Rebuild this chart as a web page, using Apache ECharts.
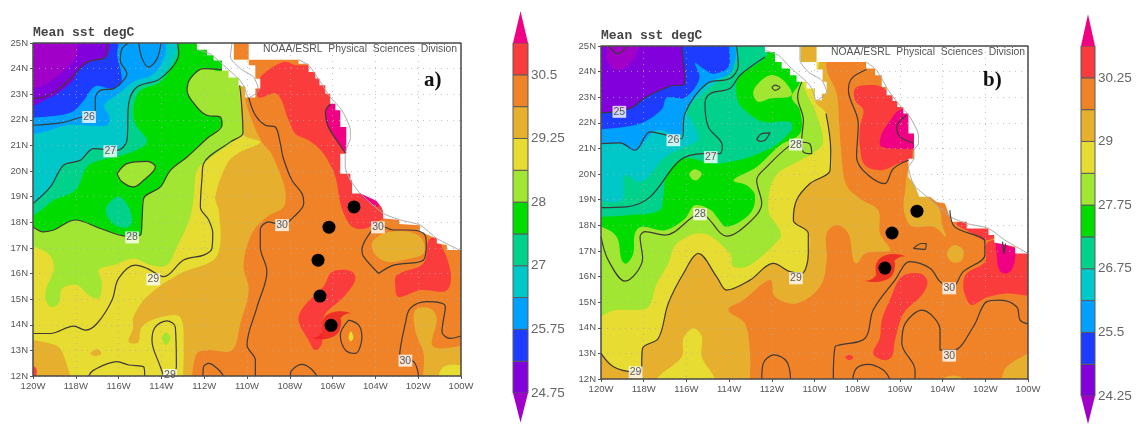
<!DOCTYPE html>
<html><head><meta charset="utf-8">
<style>html,body{margin:0;padding:0;background:#fff}#c{width:1136px;height:424px;filter:blur(0.45px)}</style>
<script src="https://cdn.jsdelivr.net/npm/echarts@6/dist/echarts.min.js"></script>
</head><body><div id="c"></div>
<script>
const xTickLabels=['120W','118W','116W','114W','112W','110W','108W','106W','104W','102W','100W'];
const yTickLabels=['12N','13N','14N','15N','16N','17N','18N','19N','20N','21N','22N','23N','24N','25N'];
const barLabelsA=['24.75','','25.75','','27','','28','','29.25','','30.5',''];
const barLabelsB=['24.25','','25.5','','26.75','','27.75','','29','','30.25',''];
const ORANGE='#f08228',GOLD='#e6af2d',YELLOW='#e6dc32',LGREEN='#a0e632',GREEN='#00dc00',SEA='#00d28c',CYAN='#00c8c8',SKY='#00a0ff',BLUE='#1e3cff',PURPLE='#8200dc',VIOLET='#a000c8',RED='#fa3c3c',MAGENTA='#f00082';
const barColors=[PURPLE,BLUE,SKY,CYAN,SEA,GREEN,LGREEN,YELLOW,GOLD,ORANGE,RED];

/* ===== panel a: band edges, [lon,lat] ===== */
const aGold=[[-109.95,24],[-110.08,22.87],[-109.77,21.98],[-109.3,21.13],[-108.91,20.75],[-108.52,20.03],[-108.21,19.25],[-108.29,18.6],[-109.07,18.21],[-109.77,17.57],[-110.16,16.33],[-109.92,15.35],[-110.31,14.05],[-110.7,13.01],[-111.87,13.01],[-112.34,12.88],[-112.57,12],[-112.6,11.5],[-121,11.5],[-121,26],[-110,26]];
const aYellow=[[-110.2,24],[-110.28,23.35],[-110.19,21.46],[-109.38,21.13],[-110.31,20.75],[-110.93,20.29],[-111.48,18.99],[-111.32,18.47],[-111.25,17.18],[-111.56,16.53],[-113.12,16],[-114.67,15.1],[-115.3,14.31],[-115.33,13.86],[-115.53,13.34],[-115.09,13.31],[-114.91,13.92],[-114.05,14.29],[-113.12,14.29],[-112.96,13.01],[-112.99,12],[-113,11.5],[-121,11.5],[-121,26],[-110.2,26]];
const aLGreen=[[-110.4,24],[-110.39,23.35],[-110.23,21.85],[-110.19,21.49],[-111.87,20.42],[-112.34,20.03],[-112.49,18.99],[-112.68,18.15],[-113.27,17.05],[-113.74,16.33],[-114.52,16.33],[-115.3,16.59],[-116.23,16.33],[-116.93,16.14],[-116.78,15.62],[-116.93,15.03],[-117.4,15.16],[-117.94,15.55],[-118.64,15.42],[-118.8,14.83],[-119.19,14.7],[-119.42,15.09],[-119.35,15.48],[-119.03,16.14],[-119.11,16.59],[-119.42,16.85],[-120,17.05],[-121,17.1],[-121,26],[-110.4,26]];
const aContour28=[[-111.17,23.96],[-112.03,24],[-112.65,23.61],[-112.8,23.15],[-112.34,22.5],[-111.87,22.18],[-111.25,22.11],[-111.17,21.79],[-111.87,21.27],[-112.8,20.55],[-113.58,20.03],[-114.05,19.38],[-114.83,18.93],[-114.9,18.15],[-114.98,17.5],[-115.61,17.46],[-116.85,17.76],[-118.02,18.09],[-119.03,17.7],[-119.5,17.63],[-120,17.83]];
const aGreen=aContour28.concat([[-121,17.9],[-121,26],[-111.17,26]]);
const aSea=[[-113.3,26],[-113.27,25],[-113.19,24.58],[-114.05,23.48],[-114.98,23.15],[-115.3,22.5],[-115.22,21.85],[-114.67,21.14],[-115.61,20.68],[-116.85,20.42],[-117.48,20.16],[-118.02,19.25],[-119.03,18.86],[-119.97,18.28],[-121,18.1],[-121,26]];
const aCyan=[[-113.35,26],[-113.35,24.58],[-114.2,23.54],[-115.22,23.26],[-115.53,22.63],[-115.61,21.2],[-116.07,20.81],[-117.17,20.88],[-117.79,20.42],[-118.57,20.23],[-119.19,19.38],[-120,18.73],[-121,18.4],[-121,26]];
const aSky=[[-113.77,26],[-113.77,25],[-113.85,24.45],[-114.36,23.8],[-115.3,23.48],[-116,23.02],[-116.67,22.57],[-116.42,22.11],[-116.54,21.79],[-117.63,21.79],[-118.41,21.79],[-119.5,21.53],[-120,21.44],[-121,21.3],[-121,26]];
const aBlue=[[-116,26],[-116,25],[-116.07,24.52],[-115.89,23.87],[-115.89,23.41],[-116.31,23.22],[-117.09,23.31],[-117.63,22.76],[-118.18,22.31],[-119.19,22.14],[-120,22.09],[-121,22.05],[-121,26]];
const aPurple=[[-116.4,26],[-116.4,25],[-116.57,24.45],[-117.32,24.26],[-117.87,23.93],[-118.18,23.48],[-118.88,23.02],[-119.5,22.76],[-120,22.54],[-121,22.4],[-121,26]];
const aViolet=[[-117.91,26],[-117.91,25],[-118.02,24.45],[-118.72,23.8],[-119.5,23.35],[-120,23.22],[-121,23],[-121,26]];
const aSeaBlob=[[-116,19],[-115.53,18.6],[-115.37,18.08],[-115.53,17.82],[-116.07,17.85],[-116.51,18.21],[-116.57,18.6]];
const aIsland=[[-116.07,19.9],[-115.61,20.29],[-114.67,20.38],[-114.28,20.16],[-114.83,19.64],[-115.3,19.38],[-115.84,19.58]];
const aGoldCorner=[[-121,13.25],[-118.96,13.21],[-118.49,12.62],[-118.33,11.5],[-121,11.5]];
const aGoldSmall=[[-117.32,12.88],[-117.01,13.04],[-116.81,12.88],[-117.09,12.78]];
const aLGreenBlob=[[-113.79,13.7],[-113.58,13.47],[-113.79,13.21],[-113.97,13.47]];
const aRedCorner=[[-120.2,12.4],[-119.85,12.3],[-119.9,11.9],[-120.2,11.9]];
const aRedNorth=[[-109.45,22.87],[-108.6,23.02],[-108.05,21.98],[-107.74,21.46],[-107.12,21.2],[-106.42,20.68],[-105.87,19.77],[-105.67,18.86],[-105.48,18.34],[-105.09,17.83],[-104.47,17.76],[-103.69,18.11],[-102.87,18.09],[-100,18.5],[-100,24],[-107.66,24.13],[-108.29,24.26],[-109.3,23.74],[-109.53,23.28]];
const aRedEast=[[-103.07,15.55],[-102.99,15.94],[-101.75,16.4],[-101.51,17.3],[-101.13,17.37],[-100.5,16.14],[-100.66,15.35],[-101.92,15.35],[-102.93,15.09]];
const aRedTrail=[[-105.72,16.14],[-105.09,16.07],[-104.94,15.75],[-105.48,15.09],[-106.42,14.31],[-106.5,13.27],[-106.81,13.01],[-107.12,13.4],[-107.59,14.18],[-107.35,14.7],[-106.42,15.49],[-106.11,16]];
const aGoldEast=[[-104.16,17.18],[-103.77,17.5],[-103.3,17.63],[-102.45,17.63],[-101.83,17.37],[-101.75,16.79],[-102.68,16.53],[-103.46,16.46],[-104,16.72]];
const aGoldSE=[[-102.14,14.57],[-101.44,14.64],[-101.13,14.25],[-101.28,13.14],[-99,13.14],[-99,11.5],[-101.59,11.5],[-101.75,12.88],[-102.14,13.79]];
const aYellowSE=[[-101.05,12],[-100.81,12.36],[-100.17,12.43],[-99.5,12.3],[-99.5,11.5],[-101.05,11.5]];
const aYellowTiny=[[-105.15,13.75],[-105.03,13.5],[-105.15,13.35],[-105.25,13.5]];
const aMagenta=[[-106.11,22.61],[-106.34,22.31],[-106.23,21.79],[-105.87,21.27],[-105.4,20.71],[-105.2,20.6],[-105.0,21.72],[-105.56,22.6]];
const aMagenta2=[[-104.75,19.14],[-104.4,19.14],[-103.9,18.84],[-103.85,18.6],[-104.4,18.84]];
const aCell=[[-110.62,25],[-109.92,25],[-109.92,24.35],[-110.62,24.35]];
const aBaja=[[-112.34,25],[-112.34,24.74],[-111.87,24.74],[-111.87,24.52],[-111.56,24.52],[-111.56,24.32],[-111.17,24.32],[-111.17,23.93],[-110.86,23.93],[-110.86,23.65],[-110.39,23.65],[-110.39,23.31],[-110.08,23.31],[-110.08,22.87],[-109.61,22.87],[-109.61,23.22],[-109.38,23.22],[-109.38,23.6],[-109.61,23.6],[-109.61,24.13],[-109.92,24.13],[-109.92,24.35],[-110.62,24.35],[-110.62,25]];
const aMainland=[[-109.92,25],[-109.92,24.35],[-107.59,24.35],[-107.59,24.19],[-107.12,24.19],[-107.12,23.87],[-106.81,23.87],[-106.81,23.61],[-106.61,23.61],[-106.61,23.35],[-106.34,23.35],[-106.34,23.02],[-106.11,23.02],[-106.11,22.63],[-105.87,22.63],[-105.87,22.37],[-105.64,22.37],[-105.64,21.72],[-105.36,21.72],[-105.36,20.68],[-105.64,20.68],[-105.64,19.9],[-105.17,19.9],[-105.17,19.64],[-105.09,19.64],[-105.09,19.12],[-104.7,19.12],[-103.96,18.84],[-103.72,18.6],[-103.64,18.41],[-103.64,18.15],[-102.89,18.09],[-102.89,17.93],[-101.92,17.89],[-101.92,17.63],[-101.13,17.37],[-101.13,17.18],[-100.66,17.11],[-100.66,16.92],[-100,16.92],[-100,25]];
const aCoastBaja=[[-112.34,24.74],[-111.72,24.58],[-111.09,24.13],[-110.39,23.6],[-110.16,23.34],[-109.92,22.87],[-109.45,23.15],[-109.69,23.67],[-110.31,24],[-110.78,24.45],[-110.7,25]];
const aCoastMain=[[-107.59,24.35],[-107.12,24.13],[-106.57,23.48],[-106.11,22.89],[-105.56,22.37],[-105.17,21.59],[-105.17,21.27],[-105.33,20.94],[-105.41,20.68],[-105.41,20.16],[-105.17,19.64],[-104.7,19.12],[-103.61,18.34],[-102.83,18.09],[-101.9,17.89],[-101.13,17.37],[-100,16.89]];

const aC25=[[-116.54,25],[-116.62,24.45],[-117.48,24.26],[-118.02,23.8],[-118.88,23.15],[-119.5,22.89],[-120,22.83]];
const aC26=[[-120,21.79],[-118.72,21.88],[-117.71,22.11],[-117.09,22.22],[-117.09,22.83],[-116.85,23.15],[-116.23,23.22],[-115.84,23.48],[-115.61,23.8],[-115.92,24.32],[-115.84,24.78],[-115.53,25]];
const aC26b=[[-115.06,25],[-114.9,24.39],[-114.6,24.06],[-114.2,24.39],[-114.02,25]];
const aC27=[[-113.24,25],[-113.19,24.58],[-114.05,23.61],[-115.14,23.28],[-115.53,22.63],[-115.61,21.2],[-116.07,20.81],[-117.17,20.88],[-117.79,20.42],[-118.57,20.23],[-119.19,19.38],[-120,18.73]];
const aC29=[[-110.34,23.35],[-110.23,22.37],[-110.19,21.49],[-110.78,21.14],[-112.03,20.29],[-112.1,19.77],[-112.18,18.6],[-111.79,18.09],[-111.6,17.57],[-111.64,16.98],[-112.02,16.72],[-112.96,16.53],[-113.89,15.88],[-114.67,16.2],[-115.22,16.33],[-116,15.81],[-116.31,14.96],[-117.01,14.05],[-117.55,13.79],[-118.1,13.95],[-119.19,13.66],[-119.97,13.66]];
const aC29b=[[-117.4,12],[-117.17,12.23],[-116.07,12.56],[-115.53,12.43],[-114.83,12.36],[-114.78,12]];
const aC29c=[[-113.89,12],[-114.05,12.36],[-114.44,13.4],[-114.28,13.92],[-113.74,14.15],[-113.35,13.92],[-113.3,12.36],[-113.5,12]];
const aC30=[[-109.92,22.87],[-109.61,22.18],[-109.14,21.79],[-108.68,21.72],[-108.44,21.07],[-108.32,20.55],[-107.9,19.64],[-107.43,19.12],[-107.35,18.73],[-107.82,18.21],[-108.36,17.89],[-108.99,18.02],[-109.38,17.7],[-109.38,17.05],[-109.07,16.07],[-109.53,14.7],[-110,13.21],[-109.61,12.62],[-109.61,12]];
const aC30b=[[-112.06,12],[-112.03,12.36],[-111.79,12.49],[-111.4,12.3],[-111.09,12]];
const aC30c=[[-107.98,12],[-107.9,12.23],[-107.43,12.45],[-107.04,12.3],[-106.73,12]];
const aC30d=[[-103.85,16],[-104.55,16.66],[-104.63,16.92],[-104.16,17.7],[-103.85,17.89],[-103.15,17.7],[-102.45,17.7],[-101.75,17.57],[-101.62,17.18],[-101.75,16.53],[-103.15,16.33],[-103.85,16]];
const aC30e=[[-101.98,12],[-102.21,12.56],[-102.87,12.75],[-102.6,14.05],[-102.37,14.64],[-101.59,14.9],[-100.73,14.7],[-100.89,13.73],[-100.5,13.47],[-100,13.56]];
const aC30f=[[-105.25,14.18],[-105.64,13.6],[-105.4,13.01],[-104.94,12.88],[-104.63,13.53],[-104.78,13.99],[-105.25,14.18]];
const aC31=[[-106.11,22.61],[-106.34,22.31],[-106.23,21.79],[-105.87,21.27],[-105.4,20.71]];
const aContourLabels=[[-117.38,22.11,'26'],[-116.39,20.77,'27'],[-115.37,17.41,'28'],[-114.38,15.77,'29'],[-113.6,12.04,'29'],[-108.36,17.89,'30'],[-103.88,17.8,'30'],[-102.6,12.6,'30']];
const aDots=[[-105,18.6],[-106.17,17.81],[-106.68,16.52],[-106.59,15.12],[-106.07,13.98]];
const aStorm=[[-106.07,13.98]];

/* ===== panel b ===== */
const bGold=[[-109.4,24],[-108.96,23.14],[-108.84,21.97],[-108.73,20.67],[-108.5,19.56],[-107.87,19.04],[-107.01,18.59],[-106.93,17.68],[-106.46,17.03],[-107.01,16.97],[-107.63,16.9],[-108.02,16.51],[-108.18,16.64],[-108.42,17.68],[-108.96,18.01],[-109.43,17.68],[-109.43,16.64],[-109.74,15.6],[-110.84,14.95],[-111.85,15.21],[-112.08,15.86],[-113.33,15.08],[-114.04,14.69],[-113.26,14.17],[-113.02,13],[-113.02,12],[-113.02,11.5],[-121,11.5],[-121,26],[-109.82,26]];
const bC29=[[-109.46,22.36],[-109.24,20.93],[-109.27,20.15],[-110.21,19.63],[-110.84,18.98],[-110.99,18.2],[-110.29,17.68],[-110.29,16.9],[-110.6,16.12],[-111.15,16.19],[-111.93,16.51],[-113.02,15.86],[-114.11,15.47],[-114.58,15.99],[-115.44,16.9],[-116.14,16.12],[-116.85,14.95],[-117.31,13.59],[-118.05,13.2],[-118.13,12.29],[-118.49,12.29],[-119.42,12.48],[-120,13]];
const bYellow=[[-110,26],[-109.98,22.88]].concat(bC29).concat([[-121,13.2],[-121,26]]);
const bYellowPatch=[[-117.39,12],[-116.22,12.87],[-116.14,13.59],[-115.68,13.98],[-115.28,13.67],[-115.28,12.87],[-114.66,12],[-114.66,11.5],[-117.39,11.5]];
const bLGreen=[[-110.52,26],[-110.52,23.53],[-109.98,22.49],[-109.59,21.25],[-110.09,20.8],[-110.68,20.54],[-111.85,19.89],[-112.16,18.59],[-111.62,17.81],[-111.62,17.49],[-113.02,16.45],[-113.8,16.38],[-113.96,16.9],[-115.21,17.68],[-116.46,17.29],[-116.85,16.51],[-117.39,15.73],[-117.78,14.82],[-118.49,14.69],[-119.34,14.69],[-120,14.46],[-121,14.3],[-121,26]];
const bGreen=[[-110.68,26],[-110.68,23.6],[-111.07,23.01],[-110.68,22.49],[-110.68,21.58],[-111.62,21.12],[-112.71,20.28],[-113.8,19.76],[-113.18,19.56],[-112.79,19.17],[-113.02,18.46],[-114.11,17.94],[-114.58,18.33],[-114.82,18.58],[-115.6,18.78],[-116.07,18.26],[-117,17.81],[-118.1,17.94],[-118.41,17.68],[-118.49,16.9],[-118.8,16.51],[-119.03,16.64],[-119.27,17.55],[-120,17.94],[-121,18],[-121,26]];
const bSea=[[-112.3,26],[-112.3,25],[-112.24,24.61],[-113.57,23.73],[-113.6,22.88],[-113.18,22.43],[-112.4,22.04],[-111.15,22.04],[-111.07,21.71],[-112.24,20.93],[-114.5,20.41],[-116.14,20.6],[-116.92,19.95],[-117.08,19.11],[-117.24,18.59],[-118.64,18.4],[-120,18.33],[-121,18.3],[-121,26]];
const bCyan=[[-113.65,26],[-113.65,25],[-113.57,24.57],[-114.11,23.92],[-115.05,23.27],[-115.99,22.49],[-115.75,22.1],[-115.44,21.38],[-116.14,21.03],[-117,20.67],[-118.1,19.69],[-118.88,19.95],[-119.03,18.98],[-120,18.95],[-121,18.9],[-121,26]];
const bSky=[[-113.7,26],[-113.7,25],[-113.69,24.57],[-113.96,23.92],[-114.89,23.6],[-115.6,23.01],[-116.14,22.23],[-116.3,21.51],[-117.39,21.71],[-118.41,20.93],[-119.11,21.19],[-120,21.19],[-121,21.2],[-121,26]];
const bBlue=[[-113.95,26],[-113.99,25],[-114.04,24.18],[-114.74,23.92],[-115.21,24.12],[-115.6,24.34],[-115.39,23.73],[-116.07,22.98],[-116.92,22.98],[-117.16,22.52],[-118.17,21.97],[-120,21.74],[-121,21.7],[-121,26]];
const bC25=[[-116.22,25],[-116.07,23.53],[-116.77,23.43],[-117.94,22.98],[-118.64,22.56],[-120,22.39]];
const bPurple=[[-116.22,26]].concat(bC25).concat([[-121,22.3],[-121,26]]);
const bViolet=[[-118.25,26],[-118.25,25],[-118.49,24.44],[-119.19,24.05],[-119.73,24.44],[-119.73,25],[-119.73,26]];
const bLGreenBlob=[[-112.87,23.14],[-112.71,23.47],[-112.08,23.86],[-111.46,23.66],[-111.07,23.08],[-112.08,22.95],[-112.63,22.82]];
const bLoop1=[[-112,23.38],[-111.85,23.47],[-111.62,23.38],[-111.85,23.27],[-112,23.38]];
const bLoop2=[[-112.71,21.35],[-112.47,21.58],[-112.08,21.61],[-112.32,21.32],[-112.55,21.28],[-112.71,21.35]];
const bLGreenSmall=[[-115.86,20.02],[-115.6,20.19],[-115.28,20.02],[-115.52,19.76],[-115.75,19.82]];
const bRedNorth=[[-108.1,23.34],[-107.63,23.47],[-106.85,23.4],[-105.84,22.62],[-104.72,22.49],[-104.72,20.93],[-105.37,20.93],[-105.45,20.6],[-106.08,20.41],[-106.85,20.15],[-107.63,20.34],[-107.87,21.06],[-107.87,21.84],[-107.71,22.49],[-108.1,22.88]];
const bMagenta=[[-106.93,21.12],[-106.85,21.58],[-106.15,22.43],[-105.84,22.55],[-105.3,22.4],[-105.2,21.2],[-105.4,21],[-106.46,21]];
const bRedCentral=[[-105.05,16.12],[-104.71,15.8],[-104.97,15.28],[-105.83,14.56],[-106.23,13.52],[-106.38,12.87],[-106.78,12.74],[-107.25,13],[-106.94,13.59],[-106.85,14.3],[-106.47,15.08],[-105.92,15.99]];
const bRedTiny=[[-108.57,12.85],[-108.36,12.94],[-108.18,12.85],[-108.36,12.74]];
const bRedEast=[[-103.03,15.73],[-102.87,16.12],[-102.02,16.58],[-101.93,17.29],[-101.47,17.42],[-100,16.9],[-99.5,16.9],[-99.5,15.34],[-101,15.34],[-101.93,15.19],[-102.64,14.89],[-102.95,15.28]];
const bRedCoast=[[-103.34,18.05],[-102.79,17.76],[-102.02,17.42],[-101.5,17.6],[-102.87,18.3]];
const bMagentaEast=[[-101.47,17.36],[-101.47,16.9],[-101.34,16.25],[-101,16.12],[-100.69,16.38],[-100.6,17.1],[-100.84,17.16],[-101.16,17.36]];
const bGoldSE=[[-101.23,12],[-101,12.48],[-100,13],[-99.5,13.2],[-99.5,11.5],[-101.23,11.5]];
const bGoldBlob=[[-103.78,16.97],[-103.43,17.23],[-103.03,17.03],[-103.11,16.64],[-103.5,16.54],[-103.73,16.71]];
const bGoldCoast=[[-105.6,20.15],[-105.75,19.37],[-105.83,18.72],[-105.68,18.2],[-105.37,17.94],[-104.43,17.94],[-103.84,17.55],[-104.04,18.07],[-104.12,18.59],[-104.66,19.11],[-105.2,19.5]];
const bGoldBottom=[[-104.12,11.9],[-103.8,12.1],[-103.2,12.1],[-103,11.9]];
const bCell=[[-110.65,25],[-109.9,25],[-109.9,24.38],[-110.65,24.38]];
const bBaja=[[-112.32,25],[-112.32,24.77],[-111.85,24.77],[-111.85,24.38],[-111.54,24.38],[-111.54,24.12],[-111.15,24.12],[-111.15,23.86],[-110.84,23.86],[-110.84,23.6],[-110.37,23.6],[-110.37,23.34],[-109.98,23.34],[-109.98,22.88],[-109.66,22.88],[-109.66,23.14],[-109.43,23.14],[-109.43,23.6],[-109.62,23.6],[-109.62,24.08],[-109.9,24.08],[-109.9,24.38],[-110.65,24.38],[-110.65,25]];
const bMainland=[[-109.9,25],[-109.9,24.38],[-107.58,24.38],[-107.58,24.12],[-107.16,24.12],[-107.16,23.86],[-106.85,23.86],[-106.85,23.4],[-106.62,23.4],[-106.62,23.08],[-106.34,23.08],[-106.34,22.85],[-106.12,22.85],[-106.12,22.62],[-105.84,22.62],[-105.84,22.36],[-105.6,22.36],[-105.6,21.58],[-105.34,21.58],[-105.34,20.6],[-105.6,20.6],[-105.6,19.89],[-105.34,19.63],[-105.09,19.11],[-104.59,19.11],[-104.28,18.91],[-103.89,18.85],[-103.58,18.14],[-102.87,18.14],[-102.87,17.88],[-101.85,17.88],[-101.85,17.62],[-101.58,17.62],[-101.58,17.33],[-100.6,17.16],[-100.6,16.9],[-100,16.9],[-100,25]];
const bCoastBaja=[[-112.32,24.83],[-111.69,24.64],[-111.15,24.18],[-110.37,23.6],[-110.13,23.34],[-109.9,22.88],[-109.43,23.21],[-109.66,23.66],[-110.29,23.99],[-110.68,24.44],[-110.68,25]];
const bCoastMain=[[-107.58,24.38],[-107.09,24.05],[-106.54,23.27],[-106.07,22.75],[-105.53,22.23],[-105.13,21.51],[-105.13,21.19],[-105.34,20.93],[-105.34,20.6],[-105.6,20.28],[-105.34,19.56],[-104.72,19.11],[-103.63,18.33],[-102.87,18.07],[-101.85,17.88],[-101.08,17.42],[-100,16.9]];

const bC25b=[[-119.66,25],[-119.19,24.7],[-118.8,25]];
const bC26=[[-120,21.19],[-119.11,21.22],[-118.41,20.93],[-117.7,21.65],[-116.92,21.52],[-116.22,21.38],[-116.07,22.36],[-115.05,23.53],[-113.96,23.73],[-113.57,24.25],[-113.65,25]];
const bC27=[[-120,18.69],[-118.8,18.72],[-117.7,19.11],[-116.3,20.54],[-115.21,20.8],[-114.43,20.8],[-114.32,21.12],[-114.97,21.84],[-115.13,22.75],[-114.89,23.14],[-113.96,23.34],[-113.49,23.86],[-112.32,24.57]];
const bC28=[[-110.6,23.6],[-110.79,23.01],[-110.52,22.1],[-110.6,21.32],[-110.52,20.86],[-110.13,20.8],[-110.24,21.19],[-110.68,21.25],[-111.15,21.12],[-112.24,20.28],[-112.71,19.76],[-112.47,18.85],[-112.94,18.2],[-114.11,17.58],[-115.05,18.33],[-115.36,18.46],[-115.68,18.33],[-117,17.62],[-117.94,17.75],[-118.17,17.55],[-118.05,16.71],[-118.88,15.82],[-119.66,16.64],[-120,17.55]];
const bC30=[[-107.56,24.08],[-108.26,23.73],[-108.41,23.27],[-107.95,21.97],[-108.03,20.67],[-106.7,19.63],[-106.31,20.21],[-105.6,20.54]];
const bC30b=[[-103.66,18.59],[-103.43,17.94],[-102.02,17.36],[-102.02,16.84],[-103.03,16.19],[-103.58,15.54],[-104.12,15.8],[-104.59,16.32],[-105.53,16.58],[-106.23,15.86],[-107.25,14.69],[-107.63,13.59],[-108.81,13.33],[-109.04,13.26],[-109.12,12]];
const bC30c=[[-105.29,12],[-105.29,12.35],[-105.91,13.39],[-105.75,14.17],[-104.97,14.69],[-104.12,13.91],[-104.12,13.13],[-103.49,13.13],[-102.56,14.04],[-101.93,15.02],[-101.31,15.08],[-100.53,14.82],[-100.37,14.3],[-100,14.15]];
const bC30d=[[-108.21,12],[-108.03,12.42],[-107.48,12.57],[-106.78,12.35],[-106.47,12]];
const bC30e=[[-112.47,12],[-112.4,12.61],[-111.9,12.94],[-111.3,12.68],[-111.12,12]];
const bC30f=[[-105.37,17.1],[-104.97,17.29],[-104.77,17.29],[-104.82,17.06],[-105.37,17.1]];
const bC31=[[-105.68,22.3],[-106.15,21.84],[-105.99,21.45],[-105.37,21.22]];
const bC31b=[[-101.19,17.36],[-101.13,16.9],[-101.05,17.29]];
const bContourLabels=[[-119.14,22.43,'25'],[-116.61,21.32,'26'],[-114.86,20.66,'27'],[-110.87,21.15,'28'],[-115.36,18.43,'28'],[-110.87,15.93,'29'],[-118.38,12.26,'29'],[-103.69,15.54,'30'],[-103.69,12.91,'30']];
const bDots=[[-105.2,18.55],[-106.37,17.7],[-106.7,16.33]];
const bStorm=[[-106.7,16.33]];

const seaBase=[[-121,11],[-99,11],[-99,26],[-121,26]];
const frame=[[-120,12],[-100,12],[-100,25],[-120,25],[-120,12]];
const STORM='path://M32 43C32 25 45 8 75 4C90 2 108 4 120 9C108 9 98 12 88 22C92 30 90 55 80 65C65 82 25 86 0 78C14 78 24 74 34 62C32 55 32 50 32 43Z';

const S=0.35;
const aFills=[[ORANGE,seaBase,0],[GOLD,aGold,S],[YELLOW,aYellow,S],[LGREEN,aLGreen,S],[GREEN,aGreen,S],[SEA,aSea,S],[CYAN,aCyan,S],[SKY,aSky,S],[BLUE,aBlue,S],[PURPLE,aPurple,S],[VIOLET,aViolet,S],
 [SEA,aSeaBlob,S],[LGREEN,aIsland,S],[GOLD,aGoldCorner,S],[GOLD,aGoldSmall,S],[LGREEN,aLGreenBlob,S],[RED,aRedCorner,S],
 [RED,aRedNorth,S],[RED,aRedEast,S],[RED,aRedTrail,S],[GOLD,aGoldEast,S],[GOLD,aGoldSE,S],[YELLOW,aYellowSE,S],[YELLOW,aYellowTiny,S],[MAGENTA,aMagenta,0.2],[MAGENTA,aMagenta2,0.2],[ORANGE,aCell,0],['#fff',aBaja,0],['#fff',aMainland,0]];
const bFills=[[ORANGE,seaBase,0],[GOLD,bGold,S],[YELLOW,bYellow,S],[LGREEN,bLGreen,S],[GREEN,bGreen,S],[SEA,bSea,S],[CYAN,bCyan,S],[SKY,bSky,S],[BLUE,bBlue,S],[PURPLE,bPurple,S],[VIOLET,bViolet,S],
 [YELLOW,bYellowPatch,S],[LGREEN,bLGreenBlob,S],[LGREEN,bLGreenSmall,S],
 [RED,bRedNorth,S],[MAGENTA,bMagenta,0.2],[RED,bRedCentral,S],[RED,bRedTiny,S],[RED,bRedEast,S],[RED,bRedCoast,S],[MAGENTA,bMagentaEast,S],[GOLD,bGoldSE,S],[GOLD,bGoldBlob,S],[GOLD,bGoldCoast,S],[GOLD,bGoldBottom,S],[GOLD,bCell,0],['#fff',bBaja,0],['#fff',bMainland,0]];
const aContours=[aC25,aC26,aC26b,aC27,aContour28,aIsland.concat([aIsland[0]]),aC29,aC29b,aC29c,aC30,aC30b,aC30c,aC30d,aC30e,aC30f,aC31];
const bContours=[bC25,bC25b,bC26,bC27,bC28,bLoop1,bLoop2,bC29,bC30,bC30b,bC30c,bC30d,bC30e,bC30f,bC31,bC31b];

const FONT='"Liberation Sans",Arial,sans-serif';
function panelAxes(g){
 return {x:{type:'value',gridIndex:g,min:-120,max:-100,interval:2,z:2.5,
   axisLine:{show:false},axisTick:{show:true,length:3,lineStyle:{color:'#555'}},
   axisLabel:{fontFamily:FONT,fontSize:9.5,color:'#555',margin:5,formatter:(v,i)=>xTickLabels[i]},
   splitLine:{show:true,lineStyle:{color:'rgba(175,175,175,.75)',width:1,type:[1,5]}}},
  y:{type:'value',gridIndex:g,min:12,max:25,interval:1,z:2.5,
   axisLine:{show:false},axisTick:{show:true,length:3,lineStyle:{color:'#555'}},
   axisLabel:{fontFamily:FONT,fontSize:9.5,color:'#555',margin:5,formatter:(v,i)=>yTickLabels[i]},
   splitLine:{show:true,lineStyle:{color:'rgba(175,175,175,.75)',width:1,type:[1,5]}}}};
}
function panelSeries(g,fills,contours,cBaja,cMain,labels,dots,storm){
 const out=[];
 out.push({type:'custom',xAxisIndex:g,yAxisIndex:g,coordinateSystem:'cartesian2d',clip:true,z:2,silent:true,animation:false,
  data:fills.map((f,i)=>[-110,18,i]),
  renderItem:(p,api)=>{const f=fills[p.dataIndex];
   return {type:'polygon',shape:{points:f[1].map(q=>api.coord(q)),smooth:f[2]||undefined},style:{fill:f[0]}};}});
 [cBaja,cMain].forEach(c=>out.push({type:'line',xAxisIndex:g,yAxisIndex:g,data:c,symbol:'none',smooth:0.2,z:3,silent:true,animation:false,clip:true,lineStyle:{color:'#aaa',width:1}}));
 contours.forEach(c=>out.push({type:'line',xAxisIndex:g,yAxisIndex:g,data:c,symbol:'none',smooth:0.35,z:4,silent:true,animation:false,clip:true,lineStyle:{color:'#3f3a36',width:1.2}}));
 out.push({type:'scatter',xAxisIndex:g,yAxisIndex:g,data:labels,symbolSize:0,z:5,silent:true,animation:false,clip:false,
  label:{show:true,position:'inside',formatter:p=>p.data[2],fontFamily:FONT,fontSize:10.5,color:'#333',backgroundColor:'#fff',padding:[1,1,0,1]}});
 out.push({type:'scatter',xAxisIndex:g,yAxisIndex:g,data:storm,symbol:STORM,symbolSize:[40,28],z:6,silent:true,animation:false,itemStyle:{color:'#ee1c25'}});
 out.push({type:'scatter',xAxisIndex:g,yAxisIndex:g,data:dots,symbol:'circle',symbolSize:13,z:7,silent:true,animation:false,itemStyle:{color:'#000',opacity:1}});
 out.push({type:'line',xAxisIndex:g,yAxisIndex:g,data:frame,symbol:'none',z:8,silent:true,animation:false,clip:false,lineStyle:{color:'#4a4a4a',width:1.5}});
 return out;
}
function barSeries(g,tip,foot){
 return {type:'custom',xAxisIndex:g,yAxisIndex:g,coordinateSystem:'cartesian2d',clip:false,z:2,silent:true,animation:false,
  data:barColors.map((c,i)=>[0,i]).concat([[0,11],[0,-1]]),
  renderItem:(p,api)=>{const i=p.dataIndex;
   if(i<barColors.length){
    const a=api.coord([0,i]),b=api.coord([1,i+1]);
    return {type:'rect',shape:{x:a[0],y:b[1],width:b[0]-a[0],height:a[1]-b[1]},style:{fill:barColors[i],stroke:'#5a5a5a',lineWidth:1}};
   }
   const top=i===barColors.length;
   const pts=top?[[0,11],[1,11],[0.5,11+tip]]:[[0,0],[1,0],[0.5,-foot]];
   return {type:'polygon',shape:{points:pts.map(q=>api.coord(q))},style:{fill:top?MAGENTA:VIOLET}};
  }};
}
function barAxes(g,labels){
 return {x:{type:'value',gridIndex:g,min:0,max:1,show:false},
  y:{type:'value',gridIndex:g,min:0,max:11,interval:1,position:'right',
   axisLine:{show:false},axisTick:{show:false},splitLine:{show:false},
   axisLabel:{fontFamily:FONT,fontSize:13.5,color:'#666',margin:3,formatter:(v,i)=>labels[i]}}};
}
const pa=panelAxes(0),pb=panelAxes(1),ba=barAxes(2,barLabelsA),bb=barAxes(3,barLabelsB);
const chart=echarts.init(document.getElementById('c'),null,{renderer:'canvas'});
const monoTitle={fontFamily:'"Liberation Mono",monospace',fontSize:13,fontWeight:'bold',color:'#444'};
const noaa={fontFamily:FONT,fontSize:10.4,fontWeight:'normal',color:'#555'};
const letter={fontFamily:'"Liberation Serif",serif',fontSize:21,fontWeight:'bold',color:'#111'};
chart.setOption({
 animation:false,backgroundColor:'#fff',
 title:[
  {text:'Mean sst degC',left:33,top:26,textStyle:monoTitle,padding:0},
  {text:'Mean sst degC',left:601,top:29,textStyle:monoTitle,padding:0},
  {text:'NOAA/ESRL  Physical  Sciences  Division',left:263,top:44,textStyle:noaa,padding:0,z:9},
  {text:'NOAA/ESRL  Physical  Sciences  Division',left:831,top:47,textStyle:noaa,padding:0,z:9},
  {text:'a)',left:424,top:70,textStyle:letter,padding:0,z:9},
  {text:'b)',left:983,top:70,textStyle:letter,padding:0,z:9}
 ],
 grid:[
  {left:33,top:43,width:428,height:333},
  {left:601,top:46,width:427,height:333},
  {left:513,top:43,width:15,height:350},
  {left:1081,top:46,width:14,height:350}
 ],
 xAxis:[pa.x,pb.x,ba.x,bb.x],
 yAxis:[pa.y,pb.y,ba.y,bb.y],
 series:[].concat(
  panelSeries(0,aFills,aContours,aCoastBaja,aCoastMain,aContourLabels,aDots,aStorm),
  panelSeries(1,bFills,bContours,bCoastBaja,bCoastMain,bContourLabels,bDots,bStorm),
  [barSeries(2,1,0.93),barSeries(3,1,0.88)]
 )
});
</script></body></html>
